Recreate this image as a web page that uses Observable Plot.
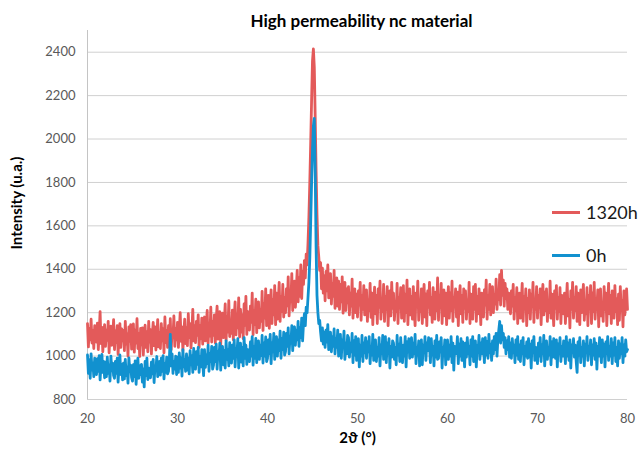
<!DOCTYPE html>
<html><head><meta charset="utf-8">
<script src="https://cdn.jsdelivr.net/npm/d3@7"></script>
<script src="https://cdn.jsdelivr.net/npm/@observablehq/plot@0.6"></script>
<style>
body{margin:0;background:#fff;}
#wrap{position:relative;width:644px;height:461px;font-family:Lato,"Open Sans",sans-serif;}
.leg{position:absolute;left:552px;height:24px;display:flex;align-items:center;font-size:18px;color:#1a1a1a;font-family:Lato,sans-serif;white-space:nowrap;}
.leg .sw{display:inline-block;width:28px;height:3px;margin-right:6px;}
</style></head><body><div id="wrap"></div>
<script>
const chartTitle = "High permeability nc material";
const xLabel = "2ϑ (°)";
const yLabel = "Intensity (u.a.)";
const thetaStart = 20, thetaStep = 0.1;
const seriesNames = ["1320h", "0h"];
const seriesColors = ["#e35a5a", "#1191cf"];
const xTicks = [20, 30, 40, 50, 60, 70, 80];
const yTicks = [800, 1000, 1200, 1400, 1600, 1800, 2000, 2200, 2400];

const intensity1320h = [
1150,1042,1128,1075,1170,1060,1118,1035,1140,1088,
1065,1152,1030,1110,1205,1058,1132,1020,1098,1145,
1045,1120,1072,1160,1015,1105,1138,1050,1092,1168,
1030,1115,1062,1140,1008,1098,1150,1040,1125,1070,
1118,1025,1160,1055,1102,1000,1135,1068,1145,1032,
1090,1148,1018,1120,1060,1172,1035,1105,998,1128,
1052,1130,1005,1098,1142,1040,1112,1020,1160,1065,
1122,1010,1100,1155,1048,1135,1028,1090,1168,1042,
1108,1035,1150,1070,1125,1015,1180,1062,1118,1040,
1140,1060,1172,1030,1115,1090,1185,1045,1128,1075,
1155,1040,1120,1200,1068,1135,1025,1110,1170,1058,
1130,1048,1195,1085,1150,1038,1122,1215,1070,1140,
1062,1160,1095,1190,1040,1138,1080,1175,1055,1148,
1180,1070,1150,1210,1058,1135,1092,1225,1065,1160,
1095,1190,1060,1168,1230,1078,1145,1205,1050,1175,
1198,1085,1160,1240,1072,1182,1110,1255,1090,1165,
1105,1212,1075,1180,1250,1098,1190,1130,1268,1088,
1215,1110,1190,1080,1240,1142,1275,1100,1205,1128,
1120,1230,1155,1290,1098,1210,1145,1262,1108,1225,
1250,1130,1215,1160,1298,1118,1240,1175,1310,1140,
1165,1280,1128,1232,1305,1150,1260,1190,1325,1145,
1290,1170,1255,1340,1160,1272,1205,1330,1180,1268,
1200,1310,1232,1365,1185,1298,1250,1380,1210,1320,
1345,1225,1310,1395,1250,1360,1275,1420,1265,1390,
1330,1440,1360,1470,1420,1520,1640,1800,1980,2180,
2360,2415,2330,2100,1850,1650,1510,1455,1395,1430,
1310,1405,1290,1370,1255,1390,1300,1420,1268,1350,
1380,1240,1335,1275,1395,1220,1310,1360,1230,1345,
1215,1330,1250,1365,1198,1290,1340,1210,1310,1245,
1320,1190,1290,1230,1355,1175,1270,1310,1200,1285,
1180,1300,1235,1340,1165,1280,1215,1325,1190,1265,
1305,1160,1260,1210,1335,1178,1290,1145,1250,1318,
1195,1280,1150,1310,1225,1345,1170,1265,1205,1330,
1160,1275,1215,1320,1140,1255,1300,1185,1340,1220,
1290,1165,1250,1205,1335,1150,1270,1225,1315,1175,
1240,1325,1160,1285,1200,1350,1145,1260,1310,1190,
1275,1170,1320,1215,1140,1290,1235,1345,1165,1250,
1205,1310,1150,1265,1330,1180,1285,1140,1300,1225,
1340,1190,1270,1155,1315,1240,1170,1295,1210,1360,
1165,1280,1225,1335,1150,1260,1305,1185,1290,1145,
1255,1320,1175,1290,1210,1345,1160,1270,1230,1310,
1180,1295,1140,1265,1325,1195,1280,1155,1310,1220,
1300,1170,1260,1205,1340,1150,1285,1230,1170,1320,
1215,1330,1160,1275,1195,1310,1250,1145,1290,1240,
1180,1305,1235,1350,1170,1280,1215,1330,1190,1295,
1320,1200,1285,1240,1355,1215,1300,1260,1375,1235,
1395,1280,1350,1230,1335,1265,1310,1215,1290,1250,
1195,1300,1230,1330,1170,1270,1210,1315,1150,1260,
1290,1175,1250,1335,1160,1275,1220,1310,1140,1265,
1200,1305,1170,1285,1230,1340,1155,1260,1215,1320,
1175,1280,1225,1310,1145,1265,1330,1190,1295,1210,
1310,1160,1255,1200,1345,1175,1285,1230,1140,1300,
1220,1325,1170,1270,1205,1315,1150,1280,1240,1195,
1290,1150,1245,1335,1185,1260,1130,1300,1215,1340,
1175,1270,1210,1320,1160,1290,1235,1145,1305,1200,
1260,1330,1165,1250,1195,1315,1140,1280,1220,1325,
1150,1290,1205,1340,1170,1265,1225,1305,1135,1270,
1310,1185,1245,1160,1320,1215,1290,1140,1255,1335,
1195,1280,1150,1300,1230,1175,1325,1205,1265,1145,
1285,1165,1320,1210,1255,1135,1300,1190,1240,1310,
1215
];

const intensity0h = [
1005,920,982,898,1010,935,968,905,990,942,
915,988,930,1002,890,962,1008,925,975,900,
972,905,995,920,960,885,1000,932,968,910,
898,975,920,990,880,955,1005,915,962,890,
968,895,985,910,950,875,992,930,958,902,
885,960,905,978,870,948,990,898,955,915,
962,880,940,858,975,910,990,892,945,905,
900,972,918,985,878,955,935,998,905,962,
975,912,990,930,1002,895,965,925,995,918,
930,990,1100,955,1010,920,975,940,1000,915,
995,925,1015,945,990,908,1030,950,985,930,
1010,935,990,918,1025,960,1000,925,1035,945,
940,1020,962,1040,925,998,950,1030,970,910,
1030,948,1005,965,1050,930,1012,975,1045,940,
958,1040,975,1055,940,1020,990,1060,935,1012,
1045,960,1025,945,1070,985,1030,955,1062,975,
968,1050,990,1075,950,1035,1005,1080,945,1028,
1060,972,1040,955,1085,990,1050,962,1030,1000,
975,1065,1000,1090,958,1045,990,1082,970,1055,
1070,985,1050,1002,1095,968,1060,1000,1088,975,
990,1075,1010,1100,965,1060,1020,1105,985,1068,
1090,1000,1075,1025,1115,990,1080,1030,1110,1005,
1020,1105,1045,1130,1010,1090,1060,1140,1025,1110,
1135,1050,1120,1075,1160,1045,1130,1085,1175,1070,
1150,1195,1140,1225,1200,1270,1340,1450,1620,1800,
1950,2060,2095,1850,1500,1280,1200,1150,1165,1110,
1070,1130,1055,1110,1040,1120,1065,1145,1030,1100,
1110,1020,1090,1045,1125,1010,1080,1040,1120,1000,
1025,1100,990,1075,1040,1115,985,1060,1010,1095,
1085,995,1060,1020,1105,970,1070,1005,1090,980,
1010,1080,950,1050,1000,1095,975,1060,1015,1085,
990,1065,1020,1090,965,1045,1005,1100,980,1055,
1075,975,1040,1000,1085,955,1050,1010,1095,985,
1005,1090,970,1060,1020,1080,945,1045,995,1070,
1060,985,1040,960,1095,1005,1055,975,1085,1015,
970,1050,1000,1090,950,1065,1020,1080,990,1045,
1085,995,1060,1010,1100,965,1040,1005,1070,955,
1000,1075,960,1050,1015,1090,980,1060,1025,1085,
1050,970,1080,1005,1045,955,1070,995,1095,985,
990,1065,1020,1085,945,1040,1010,1075,960,1055,
1075,985,1050,1000,1090,970,1060,935,1045,1010,
1020,1090,965,1055,1000,1080,980,1065,1030,950,
1060,995,1085,1010,1045,960,1075,1000,1090,975,
1005,1070,950,1050,1020,1095,985,1060,1010,1080,
1040,970,1085,1005,1065,990,1100,1015,1055,980,
1070,1010,1090,1030,1105,1000,1080,1120,1160,1060,
1140,1075,1105,1040,1085,1010,1070,1030,1090,995,
1060,990,1080,1015,1050,970,1075,1005,1090,985,
1050,975,1070,1010,1085,960,1045,1000,1065,990,
1080,995,1055,945,1070,1015,1090,980,1040,1005,
965,1060,1000,1085,975,1050,1010,1095,955,1045,
1070,985,1040,1005,1090,960,1065,995,1080,1015,
990,1075,950,1055,1010,1085,975,1045,1000,1070,
1040,965,1090,1000,1060,980,1075,945,1050,1015,
1080,995,1050,975,925,1065,1005,1085,970,1040,
1000,1070,955,1055,1015,1090,980,1045,1010,1075,
960,1050,1005,1080,985,1060,940,1045,1000,1085,
1035,970,1075,1000,1055,950,1065,1010,1090,980,
1045,1000,1080,965,1060,1005,1085,975,1040,955,
1070,990,1055,1010,1085,970,1050,1000,1075,1020,
1030
];

const toRows = (vals, name) => vals.map((v, i) => ({theta: +(thetaStart + i * thetaStep).toFixed(2), value: v, series: name}));
const rowsRed = toRows(intensity1320h, seriesNames[0]);
const rowsBlue = toRows(intensity0h, seriesNames[1]);

const chart = Plot.plot({
  width: 644, height: 461,
  marginLeft: 87, marginRight: 17, marginTop: 30, marginBottom: 62,
  style: {fontFamily: "Lato, sans-serif", fontSize: "13px", color: "#595959", background: "#fff"},
  x: {domain: [20, 80], label: null},
  y: {domain: [800, 2500], label: null},
  color: {domain: seriesNames, range: seriesColors},
  marks: [
    Plot.gridY(yTicks, {stroke: "#d0d0d0", strokeOpacity: 1, strokeWidth: 1}),
    Plot.ruleX([20], {stroke: "#c4c4c4", strokeWidth: 1}),
    Plot.line(rowsRed, {x: "theta", y: "value", stroke: "series", strokeWidth: 2.8}),
    Plot.line(rowsBlue, {x: "theta", y: "value", stroke: "series", strokeWidth: 2.8}),
    Plot.axisX(xTicks, {tickSize: 0, tickPadding: 14, label: null, fontSize: 13, fill: "#595959", tickFormat: d3.format("d")}),
    Plot.axisY(yTicks, {tickSize: 0, tickPadding: 12, label: null, fontSize: 13, fill: "#595959", tickFormat: d3.format("d")}),
    Plot.text([chartTitle], {frameAnchor: "top", dy: -16, dx: 4, fontSize: 17, fontWeight: "bold", fill: "#000"}),
    Plot.text([xLabel], {frameAnchor: "bottom", dy: 43, fontSize: 15, fontWeight: "bold", fill: "#000"}),
    Plot.text([yLabel], {frameAnchor: "left", textAnchor: "middle", dx: -70, dy: -12, rotate: -90, fontSize: 15, fontWeight: "bold", fill: "#000"})
  ]
});
const wrap = document.getElementById("wrap");
wrap.appendChild(chart);
seriesNames.forEach((name, i) => {
  const d = document.createElement("div");
  d.className = "leg";
  d.style.top = (i === 0 ? 200 : 243) + "px";
  d.innerHTML = `<span class="sw" style="background:${seriesColors[i]}"></span><span>${name}</span>`;
  wrap.appendChild(d);
});
</script>
</body></html>
